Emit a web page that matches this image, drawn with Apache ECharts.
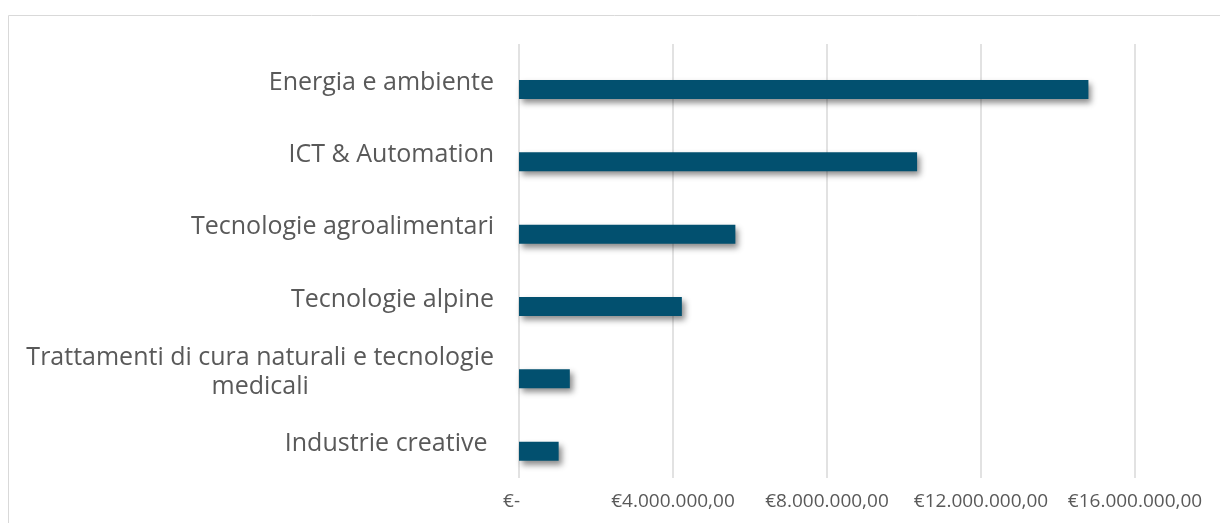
<!DOCTYPE html>
<html>
<head>
<meta charset="utf-8">
<script src="https://cdn.jsdelivr.net/npm/echarts@6/dist/echarts.min.js"></script>
<style>
  html, body { margin: 0; padding: 0; background: #fff; }
  #chart { width: 1220px; height: 523px; }
</style>
</head>
<body>
<div id="chart"></div>
<script>
var categories = [
    "Energia e ambiente",
    "ICT & Automation",
    "Tecnologie agroalimentari",
    "Tecnologie alpine",
    "Trattamenti di cura naturali e tecnologie\nmedicali",
    "Industrie creative "
];
var values = [14790000, 10340000, 5620000, 4230000, 1320000, 1030000];
var tickValues = [0, 4000000, 8000000, 12000000, 16000000];

function euro(v) {
    if (v === 0) return "€-   ";
    var s = String(Math.round(v)).replace(/\B(?=(\d{3})+(?!\d))/g, ".");
    return "€" + s + ",00";
}

var chart = echarts.init(document.getElementById("chart"));

var option = {
    animation: false,
    textStyle: { fontFamily: "'Open Sans', sans-serif" },
    graphic: [{
        type: "rect",
        shape: { x: 8.5, y: 15.5, width: 1400, height: 700 },
        style: { fill: "none", stroke: "#d9d9d9", lineWidth: 1 },
        silent: true
    }],
    grid: { left: 519, right: 85, top: 44, bottom: 45 },
    xAxis: {
        type: "value",
        min: tickValues[0],
        max: tickValues[tickValues.length - 1],
        interval: tickValues[1] - tickValues[0],
        axisLine: { show: false },
        axisTick: { show: false },
        splitLine: { lineStyle: { color: "#d9d9d9", width: 1.5 } },
        axisLabel: {
            color: "#595959",
            fontSize: 19,
            margin: 14,
            formatter: euro
        }
    },
    yAxis: {
        type: "category",
        inverse: true,
        data: categories,
        axisLine: { show: false },
        axisTick: { show: false },
        splitLine: { show: false },
        axisLabel: {
            color: "#595959",
            fontSize: 25,
            margin: 25,
            padding: [5, 0, 0, 0],
            formatter: function (v) {
                var parts = v.split("\n");
                if (parts.length === 1) return "{a|" + v + "}";
                return "{a|" + parts[0] + "}\n{c|" + parts[1] + "}";
            },
            rich: {
                a: { fontSize: 25, color: "#595959", lineHeight: 29 },
                c: { fontSize: 25, color: "#595959", lineHeight: 29, align: "center" }
            }
        }
    },
    series: [
        {
            name: "spacer",
            type: "bar",
            barWidth: 19,
            silent: true,
            data: [],
            itemStyle: { color: "transparent" }
        },
        {
            name: "Importo",
            type: "bar",
            barWidth: 19,
            barGap: "-2%",
            data: values,
            itemStyle: {
                color: "#02506f",
                shadowColor: "rgba(0,0,0,0.45)",
                shadowBlur: 6,
                shadowOffsetX: 3,
                shadowOffsetY: 4
            }
        }
    ]
};

chart.setOption(option);
</script>
</body>
</html>
